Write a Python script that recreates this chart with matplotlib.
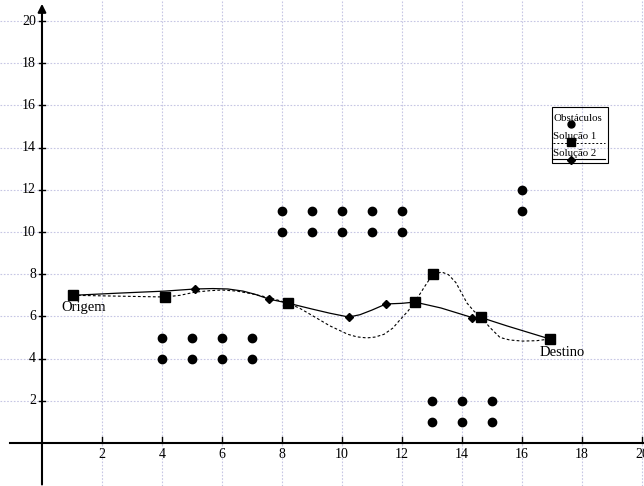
import matplotlib.pyplot as plt
from matplotlib.patches import Rectangle

# obstacles
obs_x = [4, 5, 6, 7, 4, 5, 6, 7,
         8, 9, 10, 11, 12, 8, 9, 10, 11, 12,
         13, 14, 15, 13, 14, 15,
         16, 16]
obs_y = [4, 4, 4, 4, 5, 5, 5, 5,
         10, 10, 10, 10, 10, 11, 11, 11, 11, 11,
         1, 1, 1, 2, 2, 2,
         11, 12]

# solution 1 (dashed, squares)
sol1_x = [1.03, 4.1, 8.2, 12.43, 13.03, 14.63, 16.93]
sol1_y = [7.0, 6.92, 6.63, 6.68, 8.0, 5.97, 4.93]
sol1_curve_x = [1.03, 4.1, 4.6, 5.1, 5.6, 6.0, 6.5, 7.0, 7.6, 8.2, 8.6, 9.0, 9.6, 10.2, 10.5,
                10.83, 11.1, 11.4, 11.7, 11.93, 12.2, 12.43, 12.75, 13.03, 13.33, 13.55,
                13.8, 14.17, 14.4, 14.63, 14.95, 15.27, 15.6, 16.03, 16.5, 16.93]
sol1_curve_y = [7.0, 6.92, 7.0, 7.15, 7.22, 7.25, 7.2, 7.07, 6.88, 6.63, 6.38, 6.05, 5.55, 5.15, 5.03,
                4.98, 5.02, 5.15, 5.45, 5.83, 6.25, 6.68, 7.4, 8.0, 8.1, 7.98,
                7.6, 6.63, 6.25, 5.97, 5.45, 5.0, 4.88, 4.83, 4.85, 4.93]

# solution 2 (solid, diamonds)
sol2_x = [5.1, 7.57, 10.23, 11.47, 14.33]
sol2_y = [7.3, 6.82, 5.97, 6.59, 5.92]
sol2_curve_x = [1.03, 2.5, 4.1, 5.1, 5.7, 6.2, 6.7, 7.1, 7.57, 8.2, 9.0, 9.6, 10.23, 10.6,
                11.0, 11.47, 12.0, 12.43, 13.3, 14.33, 14.63, 15.5, 16.93]
sol2_curve_y = [7.0, 7.1, 7.2, 7.3, 7.32, 7.3, 7.2, 7.05, 6.82, 6.63, 6.35, 6.15, 5.97, 6.08,
                6.3, 6.59, 6.62, 6.68, 6.4, 5.95, 5.95, 5.55, 4.93]

ticks = [2, 4, 6, 8, 10, 12, 14, 16, 18, 20]

plt.rcParams['font.family'] = ['Liberation Serif', 'DejaVu Serif']

fig = plt.figure(figsize=(6.44, 4.86), dpi=100)
ax = fig.add_axes([0, 0, 1, 1])
ax.set_xlim(-1.4, 20.07)
ax.set_ylim(-2.04, 21.0)

for t in ticks:
    ax.axvline(t, color='#c6c6e4', lw=0.8, ls=(0, (1.5, 1.5)), zorder=0)
    ax.axhline(t, color='#c6c6e4', lw=0.8, ls=(0, (1.5, 1.5)), zorder=0)

for s in ax.spines.values():
    s.set_visible(False)
ax.set_xticks([])
ax.set_yticks([])

# axes with arrows
ax.plot([-1.07, 20.07], [0, 0], color='black', lw=1.5, zorder=2)
ax.annotate('', xy=(0, 20.95), xytext=(0, -2.1),
            arrowprops=dict(arrowstyle='-|>', color='black', lw=1.5, mutation_scale=12), zorder=2)

for t in ticks:
    ax.plot([t, t], [0, 0.28], color='black', lw=1, zorder=2)
    ax.text(t, -0.55, str(t), ha='center', va='center', fontsize=10)
    ax.plot([-0.1, 0.1], [t, t], color='black', lw=1, zorder=2)
    ax.text(-0.2, t, str(t), ha='right', va='center', fontsize=10)

ax.plot(sol1_curve_x, sol1_curve_y, color='black', lw=0.8, ls=(0, (2.5, 2)), zorder=3)
ax.plot(sol2_curve_x, sol2_curve_y, color='black', lw=0.9, zorder=3)
ax.plot(obs_x, obs_y, 'o', color='black', ms=6, zorder=4)
ax.plot(sol1_x, sol1_y, 's', color='black', ms=7, zorder=4)
ax.plot(sol2_x, sol2_y, 'D', color='black', ms=4.5, zorder=4)

ax.text(0.65, 6.4, 'Origem', ha='left', va='center', fontsize=10.5)
ax.text(16.6, 4.27, 'Destino', ha='left', va='center', fontsize=10.5)

# custom legend box
tr = ax.transAxes
ax.add_patch(Rectangle((0.857, 0.665), 0.087, 0.115, transform=tr, fill=False,
                       edgecolor='black', lw=0.8, zorder=5))
ax.text(0.859, 0.757, 'Obstáculos', transform=tr, fontsize=7.8, ha='left', va='center', zorder=6)
ax.plot([0.887], [0.745], 'o', color='black', ms=5, transform=tr, zorder=6)
ax.text(0.859, 0.720, 'Solução 1', transform=tr, fontsize=7.8, ha='left', va='center', zorder=6)
ax.plot([0.859, 0.940], [0.706, 0.706], color='black', lw=0.7, ls=(0, (2, 2)), transform=tr, zorder=6)
ax.plot([0.887], [0.708], 's', color='black', ms=6, transform=tr, zorder=6)
ax.text(0.859, 0.685, 'Solução 2', transform=tr, fontsize=7.8, ha='left', va='center', zorder=6)
ax.plot([0.859, 0.940], [0.673, 0.673], color='black', lw=0.8, transform=tr, zorder=6)
ax.plot([0.887], [0.671], 'D', color='black', ms=4, transform=tr, zorder=6)

fig.savefig('out.png', dpi=100)
